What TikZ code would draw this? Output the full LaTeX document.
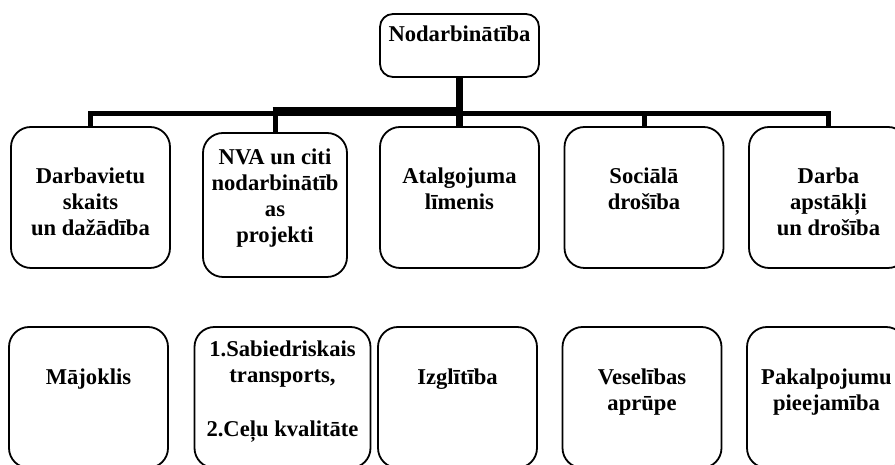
\documentclass[tikz,border=0pt]{standalone}
\usepackage{fontspec}
\setmainfont{Liberation Serif}
\usepackage{tikz}
\usetikzlibrary{positioning}

\begin{document}
\begin{tikzpicture}[x=1pt,y=1pt,node distance=184.5pt,on grid]
    \tikzstyle{box}=[shape=rectangle,rounded corners=20pt,draw,line width=1.8pt,minimum width=159pt,minimum height=141pt,inner sep=0pt]
    \tikzstyle{txt}=[font=\bfseries\fontsize{22.6}{26}\selectfont,align=center,inner sep=0pt,anchor=north]
    \tikzstyle{conn}=[line width=5pt]

    \useasboundingbox (0,0) rectangle (895,465);

    \node[box,minimum height=63pt,rounded corners=13pt] (top) at (459.5,419.5) {};

    \node[box] (B1) at (90.5,267.5) {};
    \node[box,right of=B1,yshift=-7.5pt,minimum width=144pt,minimum height=144pt] (B2) {};
    \node[box,right of=B2,yshift=7.5pt] (B3) {};
    \node[box,right of=B3] (B4) {};
    \node[box,right of=B4] (B5) {};

    \node[box] (C1) at (88.5,67.5) {};
    \node[box,right of=C1,xshift=9.5pt,minimum width=176pt] (C2) {};
    \node[box,right of=C2,xshift=-9.5pt] (C3) {};
    \node[box,right of=C3] (C4) {};
    \node[box,right of=C4] (C5) {};

    \node[txt] (Ttop) at ([yshift=-10pt]top.north) {\strut Nodarbinātība};
    \node[txt] (T1) at ([yshift=-39pt]B1.north) {\strut Darbavietu\\skaits\\un dažādība};
    \node[txt] (T2) at ([yshift=-14pt]B2.north) {\strut NVA un citi\\nodarbinātīb\\as\\projekti};
    \node[txt] (T3) at ([yshift=-39pt]B3.north) {\strut Atalgojuma\\līmenis};
    \node[txt] (T4) at ([yshift=-39pt]B4.north) {\strut Sociālā\\drošība};
    \node[txt] (T5) at ([yshift=-39pt]B5.north) {\strut Darba\\apstākļi\\un drošība};

    \node[txt] (U1) at ([yshift=-40pt]C1.north) {\strut Mājoklis};
    \node[txt] (U2) at ([yshift=-12.5pt]C2.north) {\strut 1.Sabiedriskais\\transports,\\[28pt]2.Ceļu kvalitāte};
    \node[txt] (U3) at ([yshift=-40pt]C3.north) {\strut Izglītība};
    \node[txt] (U4) at ([yshift=-40pt]C4.north) {\strut Veselības\\aprūpe};
    \node[txt] (U5) at ([yshift=-40pt]C5.north) {\strut Pakalpojumu\\pieejamība};

    % connectors
    \coordinate (bar) at ([yshift=12.5pt]B1.north);
    \coordinate (bar2) at ([yshift=2pt]bar);
    \coordinate (thickL) at (B2.north |- bar2);
    \draw[conn] (B1.north) -- (bar) -| (B5.north);
    \draw[conn] (B2.north) -- (B2.north |- bar);
    \draw[conn] (B4.north) -- (B4.north |- bar);
    \draw[line width=7pt] (top.south) -- (B3.north);
    \draw[line width=9pt] ([xshift=-2.5pt]thickL) -- (top.south |- bar2);

\end{tikzpicture}
\end{document}
